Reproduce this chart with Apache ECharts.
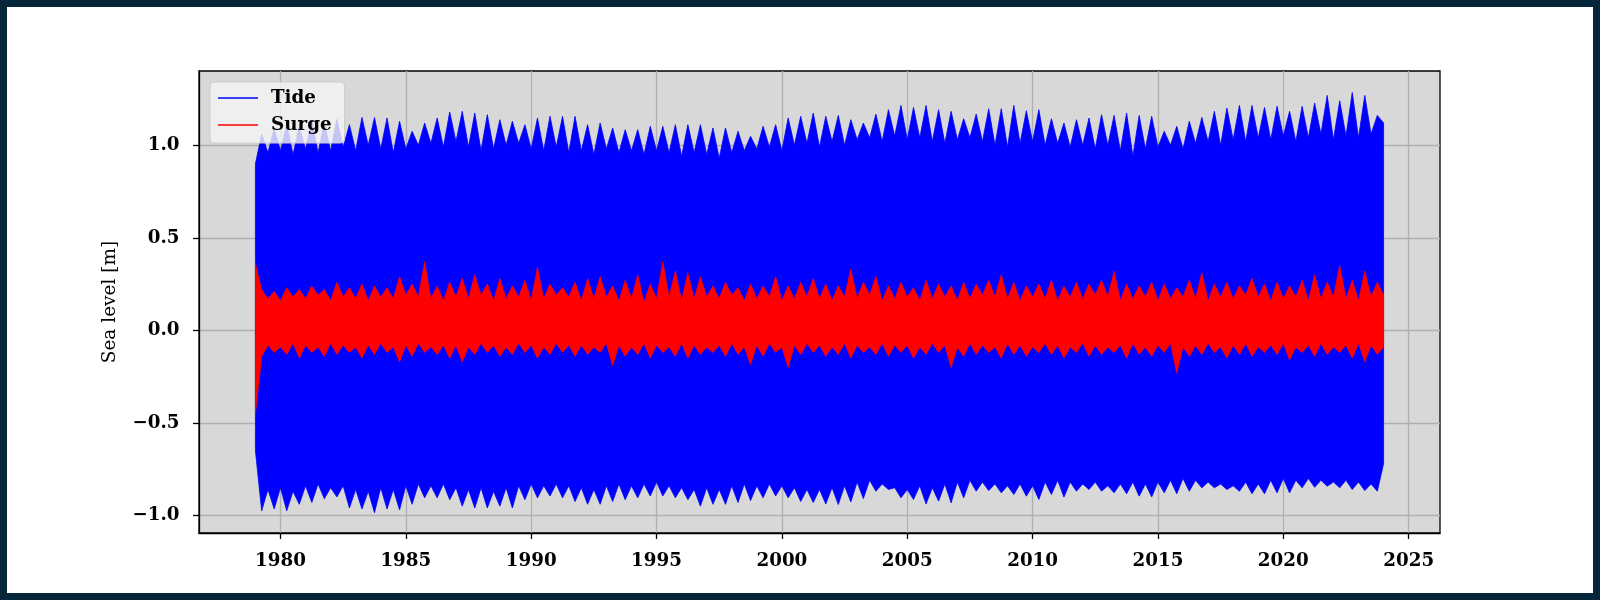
<!DOCTYPE html>
<html>
<head>
<meta charset="utf-8">
<script src="https://cdn.jsdelivr.net/npm/echarts@6/dist/echarts.min.js"></script>
<style>
html,body{margin:0;padding:0;background:#fff;}
#chart{width:1600px;height:600px;}
</style>
</head>
<body>
<div id="chart"></div>
<script>
// Sample grid: quarter-year steps from 1979.00 to 2024.00 (181 samples)
const startYear = 1979.0;
const stepYears = 0.25;

// Tide: upper / lower envelope (m), one row per year: .00 .25 .50 .75
const tideUpper = [
  0.90, 1.06, 0.96, 1.09,
  0.97, 1.11, 0.95, 1.10,
  0.98, 1.13, 0.96, 1.12,
  0.97, 1.14, 0.99, 1.111,
  0.97, 1.150, 1.00, 1.150,
  0.98, 1.147, 0.96, 1.129,
  0.98, 1.075, 1.00, 1.120,
  1.01, 1.147, 0.99, 1.179,
  1.02, 1.183, 0.99, 1.174,
  0.97, 1.165, 0.98, 1.138,
  1.00, 1.129, 1.01, 1.111,
  0.98, 1.147, 0.97, 1.156,
  0.99, 1.156, 0.96, 1.156,
  0.97, 1.111, 0.95, 1.120,
  0.98, 1.093, 0.96, 1.084,
  0.97, 1.084, 0.95, 1.102,
  0.97, 1.102, 0.96, 1.111,
  0.94, 1.111, 0.96, 1.111,
  0.95, 1.093, 0.93, 1.093,
  0.96, 1.075, 0.97, 1.048,
  0.98, 1.102, 0.99, 1.111,
  0.97, 1.147, 1.00, 1.156,
  1.01, 1.174, 0.99, 1.156,
  1.02, 1.161, 1.00, 1.138,
  1.03, 1.120, 1.04, 1.168,
  1.02, 1.192, 1.05, 1.215,
  1.03, 1.204, 1.04, 1.215,
  1.02, 1.192, 1.01, 1.183,
  1.03, 1.143, 1.04, 1.168,
  1.02, 1.197, 1.00, 1.197,
  0.99, 1.215, 1.01, 1.186,
  1.02, 1.192, 1.00, 1.143,
  1.01, 1.120, 0.99, 1.138,
  1.00, 1.147, 0.98, 1.165,
  1.00, 1.161, 0.97, 1.174,
  0.94, 1.161, 0.98, 1.156,
  0.99, 1.075, 1.00, 1.102,
  0.98, 1.129, 1.01, 1.150,
  1.02, 1.183, 1.00, 1.201,
  1.03, 1.215, 1.02, 1.215,
  1.04, 1.204, 1.03, 1.210,
  1.05, 1.183, 1.02, 1.210,
  1.04, 1.228, 1.06, 1.269,
  1.03, 1.240, 1.05, 1.285,
  1.04, 1.269, 1.06, 1.161,
  1.12
];
const tideLower = [
  -0.65, -0.975, -0.86, -0.965,
  -0.85, -0.975, -0.87, -0.94,
  -0.84, -0.93, -0.83, -0.91,
  -0.85, -0.90, -0.84, -0.96,
  -0.86, -0.965, -0.87, -0.985,
  -0.85, -0.965, -0.86, -0.97,
  -0.84, -0.94, -0.83, -0.905,
  -0.84, -0.905, -0.83, -0.915,
  -0.85, -0.95, -0.86, -0.96,
  -0.85, -0.96, -0.87, -0.95,
  -0.85, -0.96, -0.84, -0.915,
  -0.83, -0.905, -0.84, -0.895,
  -0.83, -0.905, -0.84, -0.925,
  -0.85, -0.94, -0.86, -0.94,
  -0.84, -0.925, -0.83, -0.915,
  -0.84, -0.905, -0.83, -0.895,
  -0.82, -0.895, -0.84, -0.905,
  -0.85, -0.915, -0.86, -0.95,
  -0.85, -0.94, -0.86, -0.94,
  -0.84, -0.93, -0.83, -0.92,
  -0.84, -0.905, -0.83, -0.895,
  -0.84, -0.905, -0.85, -0.925,
  -0.86, -0.93, -0.86, -0.938,
  -0.85, -0.941, -0.84, -0.927,
  -0.82, -0.909, -0.81, -0.869,
  -0.83, -0.860, -0.85, -0.905,
  -0.86, -0.914, -0.84, -0.938,
  -0.85, -0.923, -0.83, -0.932,
  -0.82, -0.905, -0.81, -0.869,
  -0.82, -0.866, -0.83, -0.878,
  -0.84, -0.887, -0.83, -0.896,
  -0.84, -0.914, -0.82, -0.887,
  -0.81, -0.901, -0.82, -0.869,
  -0.83, -0.860, -0.82, -0.869,
  -0.84, -0.878, -0.83, -0.883,
  -0.82, -0.896, -0.83, -0.900,
  -0.82, -0.878, -0.81, -0.883,
  -0.80, -0.869, -0.81, -0.851,
  -0.82, -0.851, -0.83, -0.860,
  -0.84, -0.869, -0.82, -0.883,
  -0.83, -0.883, -0.81, -0.878,
  -0.80, -0.878, -0.81, -0.851,
  -0.80, -0.848, -0.81, -0.842,
  -0.82, -0.851, -0.81, -0.860,
  -0.82, -0.866, -0.83, -0.869,
  -0.72
];

// Surge: upper / lower envelope (m)
const surgeUpper = [
  0.36, 0.22, 0.17, 0.21,
  0.16, 0.23, 0.18, 0.22,
  0.17, 0.24, 0.19, 0.22,
  0.16, 0.26, 0.18, 0.23,
  0.17, 0.25, 0.16, 0.24,
  0.18, 0.23, 0.17, 0.29,
  0.19, 0.25, 0.18, 0.37,
  0.17, 0.24, 0.16, 0.26,
  0.18, 0.28, 0.17, 0.30,
  0.19, 0.25, 0.16, 0.28,
  0.17, 0.24, 0.18, 0.27,
  0.16, 0.34, 0.17, 0.25,
  0.19, 0.23, 0.18, 0.26,
  0.16, 0.28, 0.17, 0.29,
  0.18, 0.24, 0.16, 0.27,
  0.17, 0.30, 0.15, 0.25,
  0.17, 0.37, 0.18, 0.32,
  0.16, 0.31, 0.17, 0.29,
  0.18, 0.24, 0.17, 0.26,
  0.19, 0.23, 0.16, 0.25,
  0.17, 0.24, 0.18, 0.29,
  0.16, 0.24, 0.17, 0.26,
  0.18, 0.28, 0.17, 0.25,
  0.16, 0.24, 0.18, 0.33,
  0.17, 0.26, 0.19, 0.29,
  0.16, 0.24, 0.17, 0.26,
  0.18, 0.23, 0.16, 0.27,
  0.17, 0.25, 0.18, 0.24,
  0.16, 0.26, 0.17, 0.25,
  0.19, 0.27, 0.18, 0.30,
  0.17, 0.26, 0.16, 0.24,
  0.18, 0.25, 0.17, 0.27,
  0.16, 0.24, 0.18, 0.26,
  0.17, 0.25, 0.19, 0.27,
  0.18, 0.32, 0.16, 0.25,
  0.17, 0.24, 0.18, 0.26,
  0.16, 0.25, 0.17, 0.23,
  0.18, 0.27, 0.17, 0.31,
  0.16, 0.25, 0.18, 0.26,
  0.17, 0.24, 0.19, 0.28,
  0.18, 0.25, 0.16, 0.26,
  0.17, 0.24, 0.18, 0.27,
  0.16, 0.30, 0.17, 0.26,
  0.18, 0.35, 0.17, 0.27,
  0.16, 0.32, 0.18, 0.26,
  0.19
];
const surgeLower = [
  -0.45, -0.14, -0.08, -0.12,
  -0.09, -0.13, -0.07, -0.15,
  -0.08, -0.12, -0.09, -0.14,
  -0.07, -0.13, -0.08, -0.12,
  -0.09, -0.15, -0.08, -0.13,
  -0.07, -0.12, -0.09, -0.17,
  -0.08, -0.14, -0.07, -0.12,
  -0.09, -0.13, -0.08, -0.15,
  -0.08, -0.17, -0.09, -0.13,
  -0.07, -0.12, -0.08, -0.14,
  -0.09, -0.13, -0.07, -0.12,
  -0.08, -0.15, -0.09, -0.13,
  -0.07, -0.12, -0.08, -0.14,
  -0.08, -0.13, -0.09, -0.12,
  -0.07, -0.19, -0.08, -0.14,
  -0.09, -0.13, -0.07, -0.15,
  -0.08, -0.12, -0.09, -0.14,
  -0.07, -0.15, -0.08, -0.13,
  -0.09, -0.12, -0.08, -0.14,
  -0.07, -0.13, -0.09, -0.185,
  -0.08, -0.14, -0.07, -0.12,
  -0.09, -0.20, -0.08, -0.13,
  -0.07, -0.12, -0.08, -0.14,
  -0.09, -0.13, -0.07, -0.15,
  -0.08, -0.12, -0.09, -0.13,
  -0.07, -0.14, -0.08, -0.12,
  -0.08, -0.15, -0.09, -0.13,
  -0.07, -0.12, -0.08, -0.20,
  -0.09, -0.14, -0.07, -0.13,
  -0.08, -0.12, -0.09, -0.15,
  -0.07, -0.13, -0.08, -0.14,
  -0.09, -0.12, -0.07, -0.13,
  -0.08, -0.15, -0.09, -0.12,
  -0.07, -0.14, -0.08, -0.13,
  -0.09, -0.12, -0.08, -0.15,
  -0.07, -0.13, -0.09, -0.14,
  -0.08, -0.12, -0.07, -0.23,
  -0.09, -0.14, -0.08, -0.13,
  -0.07, -0.12, -0.09, -0.15,
  -0.08, -0.13, -0.07, -0.14,
  -0.09, -0.12, -0.08, -0.13,
  -0.07, -0.16, -0.09, -0.12,
  -0.08, -0.14, -0.07, -0.13,
  -0.09, -0.12, -0.08, -0.15,
  -0.07, -0.17, -0.08, -0.13,
  -0.09
];

const xTicks = [1980, 1985, 1990, 1995, 2000, 2005, 2010, 2015, 2020, 2025];
const yTicks = [-1.0, -0.5, 0.0, 0.5, 1.0];
const seriesNames = ['Tide', 'Surge'];
const yAxisTitle = 'Sea level [m]';

const times = tideUpper.map((_, i) => startYear + stepYears * i);
const bandData = (hi, lo) => times.map((t, i) => [t, hi[i], lo[i]]);

const FONT = 'DejaVu Serif';
const FS = 18.3;
const BLUE = '#0000ff', RED = '#ff0000';

// Draw the whole min/max envelope as one polygon through the axis scales.
function bandRender(color) {
  return function (params, api) {
    if (params.dataIndexInside !== 0) return null;
    const n = params.dataInsideLength;
    const top = [], bottom = [];
    for (let j = 0; j < n; j++) {
      const t = api.value(0, j);
      top.push(api.coord([t, api.value(1, j)]));
      bottom.push(api.coord([t, api.value(2, j)]));
    }
    const pts = top.concat(bottom.reverse());
    return {
      type: 'polygon',
      shape: { points: pts },
      style: { fill: color, stroke: color, lineWidth: 0.8 }
    };
  };
}

function bandSeries(name, hi, lo, color, z) {
  return {
    name: name, type: 'custom', renderItem: bandRender(color),
    data: bandData(hi, lo), encode: { x: 0, y: [1, 2] },
    itemStyle: { color: color }, z: z, silent: true, clip: true
  };
}

const chart = echarts.init(document.getElementById('chart'), null, { renderer: 'canvas' });
chart.setOption({
  animation: false,
  backgroundColor: '#ffffff',
  grid: {
    left: 199, right: 160, top: 71, bottom: 67,
    show: true, backgroundColor: '#d8d8d8', borderColor: '#000', borderWidth: 1.3
  },
  legend: {
    data: seriesNames,
    orient: 'vertical', left: 210, top: 82,
    icon: 'rect', itemWidth: 40, itemHeight: 1.5, itemGap: 7, selectedMode: false,
    padding: [6, 13, 8, 8],
    backgroundColor: 'rgba(245,245,245,0.8)', borderColor: '#cccccc', borderWidth: 1, borderRadius: 4,
    textStyle: { fontFamily: FONT, fontWeight: 'bold', fontSize: FS, color: '#000', lineHeight: 20, padding: [0, 0, 0, 8] },
    z: 10
  },
  xAxis: {
    type: 'value', min: 1976.75, max: 2026.25,
    axisLine: { show: true, onZero: false, lineStyle: { color: '#000', width: 1.3 } },
    axisTick: { show: true, length: 6, customValues: xTicks, lineStyle: { color: '#000', width: 1.3 } },
    axisLabel: { customValues: xTicks, margin: 19, fontFamily: FONT, fontWeight: 'bold', fontSize: FS, color: '#000',
      formatter: v => String(Math.round(v)) },
    splitLine: { show: true, lineStyle: { color: '#b0b0b0', width: 1.3 } }
  },
  yAxis: {
    type: 'value', min: -1.095, max: 1.401,
    name: yAxisTitle, nameLocation: 'middle', nameGap: 79,
    nameTextStyle: { fontFamily: FONT, fontSize: 18.5, color: '#000' },
    axisLine: { show: true, onZero: false, lineStyle: { color: '#000', width: 1.3 } },
    axisTick: { show: true, length: 6, customValues: yTicks, lineStyle: { color: '#000', width: 1.3 } },
    axisLabel: { customValues: yTicks, margin: 19.5, fontFamily: FONT, fontWeight: 'bold', fontSize: FS, color: '#000',
      formatter: v => (v < 0 ? '\u2212' : '') + Math.abs(v).toFixed(1) },
    splitLine: { show: true, lineStyle: { color: '#b0b0b0', width: 1.3 } }
  },
  series: [
    bandSeries('Tide', tideUpper, tideLower, BLUE, 2),
    bandSeries('Surge', surgeUpper, surgeLower, RED, 3)
  ],
  graphic: [{
    type: 'rect', silent: true, z: 100,
    shape: { x: 3.5, y: 3.5, width: 1593, height: 593 },
    style: { fill: null, stroke: '#06263a', lineWidth: 7 }
  }]
});
</script>
</body>
</html>
